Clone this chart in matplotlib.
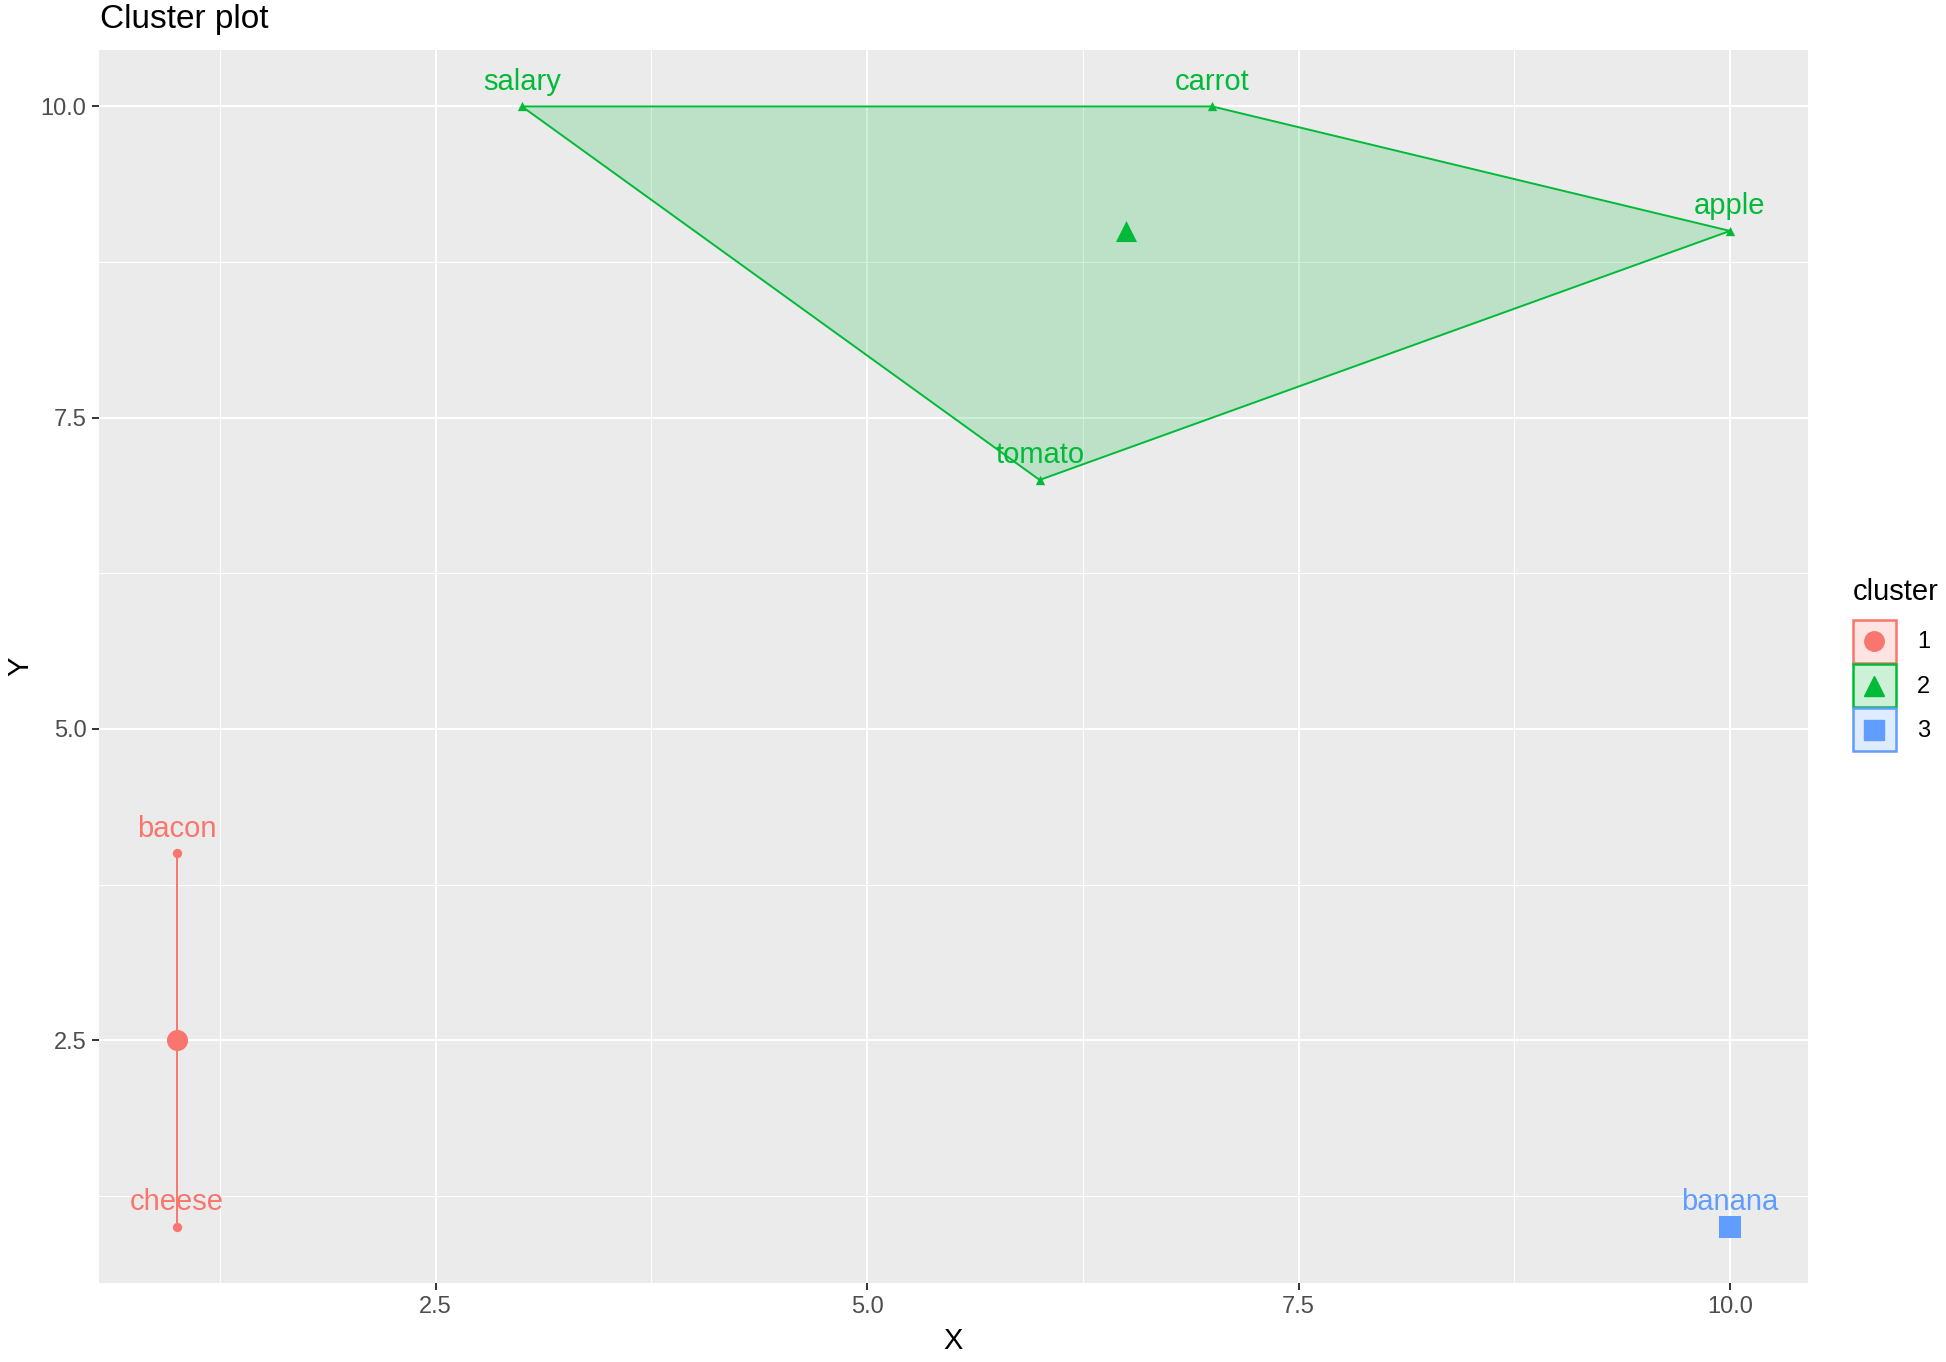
import matplotlib
matplotlib.use("Agg")
import matplotlib.pyplot as plt
from matplotlib.patches import Polygon, Patch
from matplotlib.lines import Line2D
from matplotlib.legend_handler import HandlerTuple, HandlerLine2D
import numpy as np

# ── data ────────────────────────────────────────────────────────────────
names = ["salary", "carrot", "apple", "tomato", "bacon", "cheese", "banana"]
xs = [3, 7, 10, 6, 1, 1, 10]
ys = [10, 10, 9, 7, 4, 1, 1]
clusters = [2, 2, 2, 2, 1, 1, 3]

cluster_ids = [1, 2, 3]
cluster_colors = {1: "#F8766D", 2: "#00BA38", 3: "#619CFF"}
cluster_markers = {1: "o", 2: "^", 3: "s"}
# hull vertex order (indices into names)
hulls = {1: [4, 5], 2: [0, 1, 2, 3], 3: [6]}

xticks = [2.5, 5.0, 7.5, 10.0]
yticks = [2.5, 5.0, 7.5, 10.0]


class CenteredMarker(HandlerLine2D):
    """Put the legend marker in the middle of the key box."""
    def create_artists(self, legend, orig_handle, xdescent, ydescent,
                       width, height, fontsize, trans):
        arts = super().create_artists(legend, orig_handle, xdescent, ydescent,
                                      width, height, fontsize, trans)
        for a in arts:
            x = a.get_xdata()
            a.set_ydata(np.full_like(x, height / 2 - ydescent, dtype=float))
        return arts


plt.rcParams["font.family"] = ["Liberation Sans", "DejaVu Sans"]

fig = plt.figure(figsize=(19.46, 13.62), dpi=100)
ax = fig.add_axes([0.0509, 0.058, 0.878, 0.905])
ax.set_facecolor("#EBEBEB")
for s in ax.spines.values():
    s.set_visible(False)

ax.set_xlim(0.55, 10.45)
ax.set_ylim(0.55, 10.45)
ax.set_xticks(xticks)
ax.set_yticks(yticks)
ax.set_xticklabels([f"{t:.1f}" for t in xticks])
ax.set_yticklabels([f"{t:.1f}" for t in yticks])
ax.set_xticks([1.25, 3.75, 6.25, 8.75], minor=True)
ax.set_yticks([1.25, 3.75, 6.25, 8.75], minor=True)
ax.grid(which="major", color="white", lw=1.5)
ax.grid(which="minor", color="white", lw=0.75)
ax.set_axisbelow(True)
ax.tick_params(which="major", length=5, width=1.4, color="#333333",
               labelcolor="#4D4D4D", labelsize=17, pad=4)
ax.tick_params(which="minor", length=0)

# ── clusters ────────────────────────────────────────────────────────────
for c in cluster_ids:
    col = cluster_colors[c]
    idx = hulls[c]
    hx = [xs[i] for i in idx]
    hy = [ys[i] for i in idx]
    if len(idx) > 2:
        ax.add_patch(Polygon(list(zip(hx, hy)), closed=True, facecolor=col,
                             alpha=0.2, edgecolor="none", zorder=2))
        ax.add_patch(Polygon(list(zip(hx, hy)), closed=True, facecolor="none",
                             edgecolor=col, lw=1.4, zorder=3))
    elif len(idx) == 2:
        ax.plot(hx, hy, color=col, lw=1.4, zorder=3)
    members = [i for i in range(len(names)) if clusters[i] == c]
    mx = [xs[i] for i in members]
    my = [ys[i] for i in members]
    if len(members) > 1:
        ax.scatter(mx, my, marker=cluster_markers[c], color=col, s=45,
                   zorder=4, linewidths=0)
    ax.scatter([np.mean(mx)], [np.mean(my)], marker=cluster_markers[c],
               color=col, s=230, zorder=5, linewidths=0)
    for i in members:
        ax.annotate(names[i], (xs[i], ys[i]), xytext=(0, 12),
                    textcoords="offset points", ha="center", va="baseline",
                    color=col, fontsize=21, zorder=6)

ax.set_xlabel("X", fontsize=21, labelpad=7)
ax.set_ylabel("Y", fontsize=21)
ax.yaxis.set_label_coords(-0.038, 0.5)
fig.text(0.0514, 0.997, "Cluster plot", fontsize=24, ha="left", va="top")

# ── legend ──────────────────────────────────────────────────────────────
handles = []
for c in cluster_ids:
    col = cluster_colors[c]
    handles.append((Patch(facecolor=col, alpha=0.2, edgecolor="none"),
                    Patch(facecolor="none", edgecolor=col, lw=1.8),
                    Line2D([], [], marker=cluster_markers[c], color=col,
                           ls="none", markersize=14)))
fig.text(0.952, 0.5653, "cluster", fontsize=21, ha="left", va="center")
leg = fig.legend(handles, [str(c) for c in cluster_ids],
                 handler_map={tuple: HandlerTuple(ndivide=1, pad=0),
                              Line2D: CenteredMarker()},
                 loc="upper left", bbox_to_anchor=(0.952, 0.545),
                 frameon=False, fontsize=17,
                 handlelength=1.83, handleheight=2.43, labelspacing=0.05,
                 handletextpad=0.9, borderpad=0, borderaxespad=0)

fig.savefig("out.png", dpi=100)
